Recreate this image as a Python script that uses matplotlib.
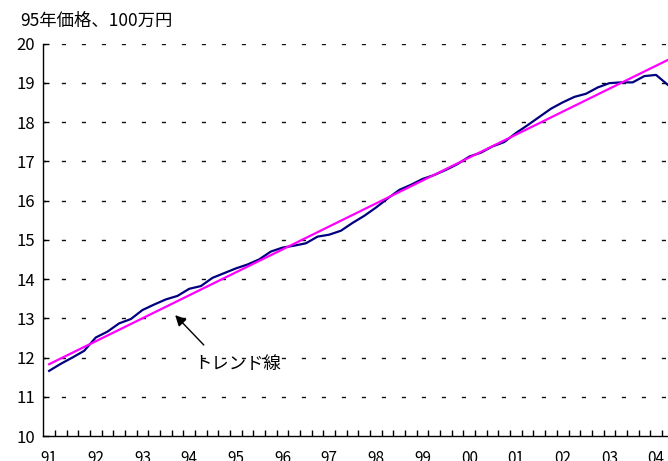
import numpy as np
import matplotlib
matplotlib.use("Agg")
import matplotlib.pyplot as plt
from matplotlib.ticker import FixedLocator

plt.rcParams['font.family'] = ['Noto Sans CJK JP', 'DejaVu Sans']

# 四半期系列 91Q1〜04Q2 (95年価格、100万円)
years = ['91', '92', '93', '94', '95', '96', '97', '98', '99', '00', '01', '02', '03', '04']
values = [11.66, 11.84, 12.00, 12.17, 12.51, 12.66, 12.87, 12.98,
          13.21, 13.35, 13.48, 13.57, 13.75, 13.82, 14.03, 14.15,
          14.27, 14.37, 14.50, 14.70, 14.80, 14.85, 14.91, 15.08,
          15.13, 15.23, 15.43, 15.61, 15.82, 16.05, 16.27, 16.40,
          16.55, 16.65, 16.78, 16.93, 17.12, 17.22, 17.38, 17.49,
          17.72, 17.92, 18.13, 18.34, 18.50, 18.64, 18.72, 18.88,
          18.99, 19.01, 19.01, 19.17, 19.20, 18.95]
# トレンド線の始点・終点
trend_ends = [11.83, 19.58]

n = len(values)
x = np.arange(n)

fig = plt.figure(figsize=(6.68, 4.61), dpi=100)
ax = fig.add_axes([0.0648, 0.0542, 0.9435, 0.8514])

ax.plot(x, values, color='#000080', lw=1.6, zorder=3)
ax.plot([0, n - 1], trend_ends, color='#ff00ff', lw=1.6, zorder=4)

ax.set_xlim(-0.5, n - 0.5)
ax.set_ylim(10, 20)

# 横の点線グリッド
for v in range(11, 21):
    ax.axhline(v, color='#111111', lw=1.0, linestyle=(1.2, (3.0, 11.4)), zorder=1)

ax.set_yticks(range(10, 21))
ax.tick_params(axis='y', direction='in', length=4, width=1, pad=6, labelsize=12)

ax.xaxis.set_major_locator(FixedLocator(np.arange(0, n, 4)))
ax.set_xticklabels(years)
ax.xaxis.set_minor_locator(FixedLocator(np.arange(0.5, n, 1)))
ax.tick_params(axis='x', which='major', length=0, pad=10, labelsize=11)
ax.tick_params(axis='x', which='minor', direction='in', length=4, width=1)

for s in ['top', 'right']:
    ax.spines[s].set_visible(False)
for s in ['left', 'bottom']:
    ax.spines[s].set_linewidth(1.0)
    ax.spines[s].set_color('black')

ax.text(12.4, 11.83, 'トレンド線', fontsize=12.5, ha='left', va='center')
ax.annotate('', xy=(10.8, 13.08), xytext=(13.25, 12.32),
            arrowprops=dict(arrowstyle='-|>', color='black', lw=1.0,
                            mutation_scale=16, shrinkA=0, shrinkB=0))

fig.text(20 / 668, 1 - 21 / 461, '95年価格、100万円', fontsize=12.5,
         ha='left', va='center')

fig.savefig('out.png', dpi=100)
